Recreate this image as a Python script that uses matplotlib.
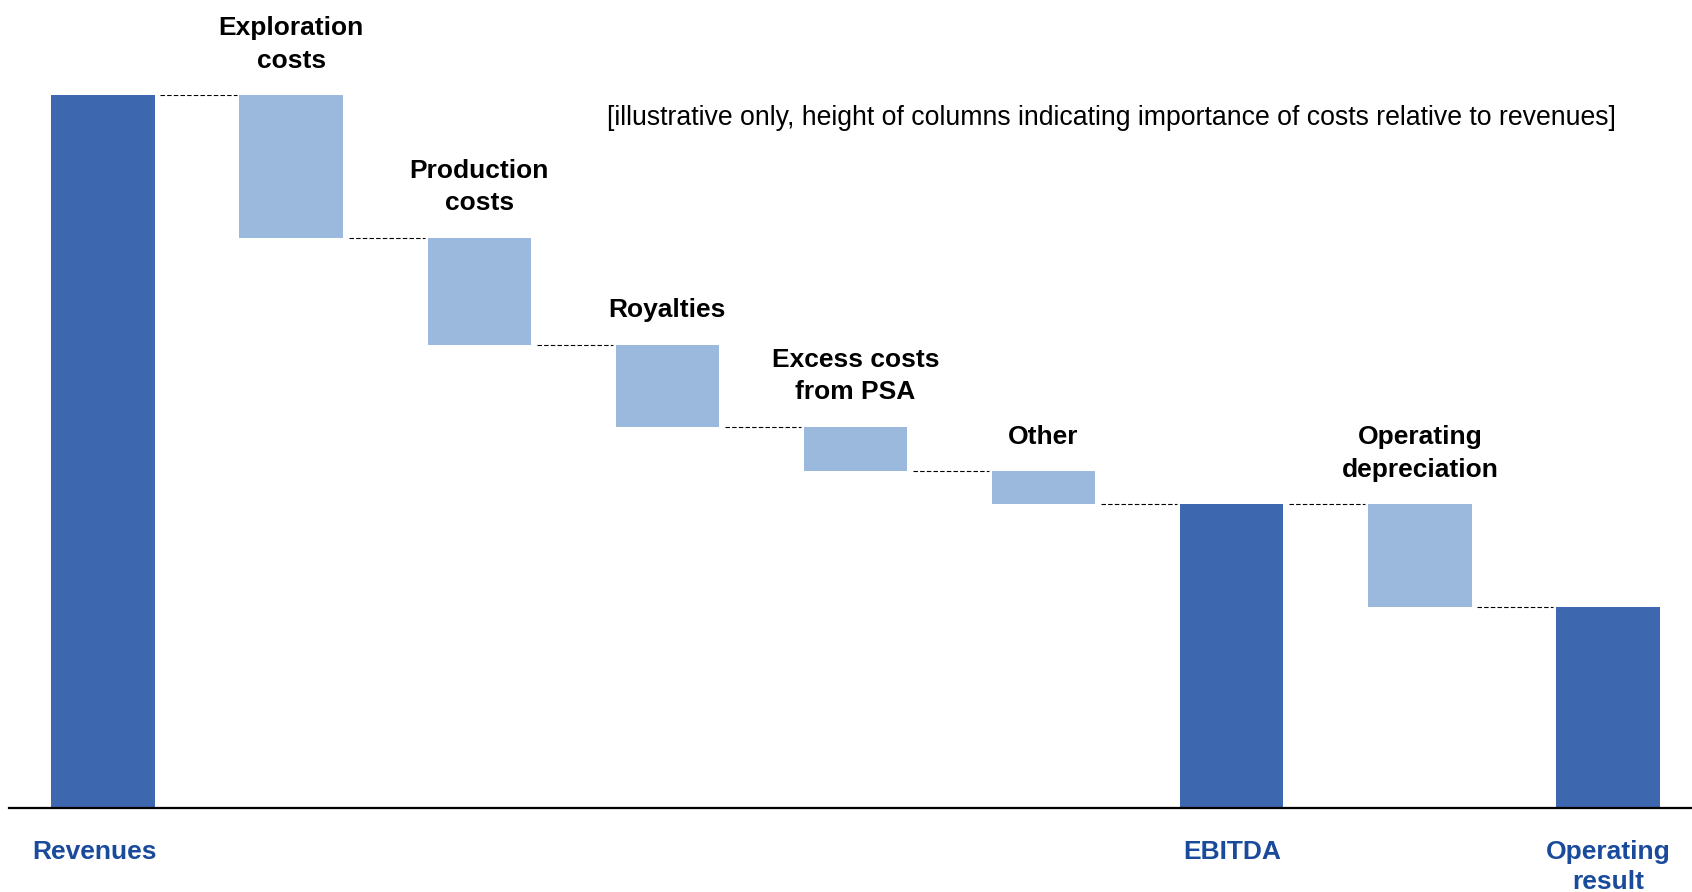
import numpy as np
import matplotlib.pyplot as plt

plt.rcParams['font.family'] = ['Liberation Sans', 'DejaVu Sans']

# Waterfall steps (revenues = 100)
revenues = 100.0
cost_names = ['Exploration\ncosts', 'Production\ncosts', 'Royalties',
              'Excess costs\nfrom PSA', 'Other']
cost_values = [20.0, 15.0, 11.5, 6.2, 4.7]
depreciation = 14.4
ebitda = revenues - sum(cost_values)
operating_result = ebitda - depreciation

total_names = ['Revenues', 'EBITDA', 'Operating\nresult']
note = '[illustrative only, height of columns indicating importance of costs relative to revenues]'

dark_blue = '#3D67AE'
light_blue = '#9AB9DC'
label_blue = '#1A4A9C'
bar_w = 0.55

# build bar list: (bottom, height, colour, top label, bottom label)
bars = [(0, revenues, dark_blue, None, total_names[0])]
level = revenues
for name, v in zip(cost_names, cost_values):
    bars.append((level - v, v, light_blue, name, None))
    level -= v
bars.append((0, ebitda, dark_blue, None, total_names[1]))
bars.append((ebitda - depreciation, depreciation, light_blue, 'Operating\ndepreciation', None))
bars.append((0, operating_result, dark_blue, None, total_names[2]))

fig = plt.figure(figsize=(16.92, 8.92), dpi=100)
ax = fig.add_axes([9 / 1692, 84 / 892, 1693 / 1692, 713 / 892])
ax.set_xlim(-0.5, len(bars) - 0.5)
ax.set_ylim(0, 100)

x = np.arange(len(bars))
for i, (b, h, c, top_lbl, bot_lbl) in enumerate(bars):
    ax.bar(x[i], h, bottom=b, width=bar_w, color=c, edgecolor='none')
    if top_lbl:
        ax.annotate(top_lbl, (x[i], b + h), xytext=(0, 16), textcoords='offset points',
                    ha='center', va='bottom', fontsize=19, fontweight='bold',
                    color='black', linespacing=1.45, annotation_clip=False)
    if bot_lbl:
        dx = -6 if i == 0 else 0
        ax.annotate(bot_lbl, (x[i], 0), xytext=(dx, -23), textcoords='offset points',
                    ha='center', va='top', fontsize=19, fontweight='bold',
                    color=label_blue, linespacing=1.3, annotation_clip=False)

# dashed connectors between consecutive bars
for i in range(len(bars) - 1):
    b, h = bars[i][0], bars[i][1]
    y = b + h if bars[i][2] == dark_blue else b
    ax.plot([x[i] + bar_w / 2 + 0.03, x[i + 1] - bar_w / 2 - 0.015], [y, y],
            color='black', lw=0.8, ls=(0, (4, 2)))

ax.text(2.68, 96.8, note, ha='left', va='center', fontsize=19.2, color='black')

for s in ['top', 'right', 'left']:
    ax.spines[s].set_visible(False)
ax.spines['bottom'].set_linewidth(1.6)
ax.set_xticks([])
ax.set_yticks([])

fig.savefig('out.png', dpi=100)
